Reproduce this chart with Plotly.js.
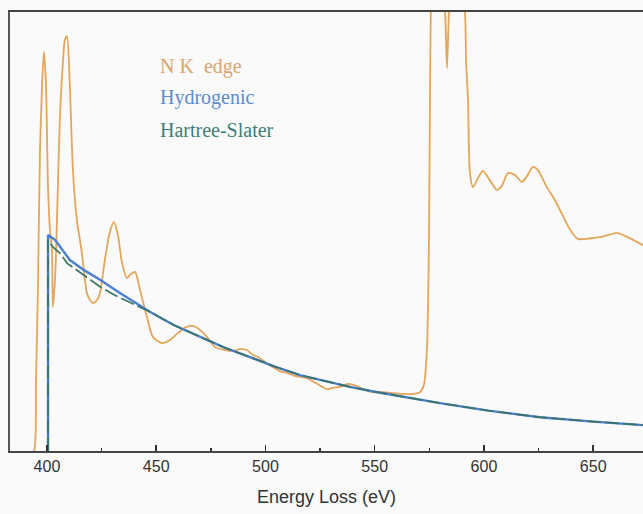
<!DOCTYPE html>
<html>
<head>
<meta charset="utf-8">
<script src="https://cdn.plot.ly/plotly-3.0.1.min.js"></script>
<style>html,body{margin:0;padding:0;background:#fafafa;}#chart{width:643px;height:514px;}</style>
</head>
<body>
<div id="chart"></div>
<script>
// N K edge spectrum (energy loss, eV / intensity, arbitrary units)
const edgeE = [384, 392, 394.1, 395.0, 395.9, 396.8, 397.7, 398.6, 399.5, 400.5, 401.4, 402.3, 402.7, 403.7, 404.6, 405.9, 407.3, 408.2, 409.2, 410.5, 411.9, 413.7, 415.1, 416.0, 418.3, 419.7, 421.1, 422.9, 424.3, 426.5, 428.8, 430.7, 432.5, 434.3, 436.6, 438.4, 440.3, 442.6, 445.8, 448.5, 452.6, 456.3, 460.0, 463.6, 466.8, 470.0, 473.2, 476.9, 481.5, 485.1, 488.3, 491.5, 494.3, 496.6, 499.8, 503.4, 506.6, 509.8, 513.5, 519.0, 523.6, 528.1, 530.9, 534.1, 537.8, 541.9, 545.5, 549.2, 553.8, 558.4, 562.9, 567.5, 570.7, 572.5, 573.9, 574.8, 575.3, 575.7, 576.2, 578.5, 581.2, 582.2, 583.1, 584.0, 584.9, 589.0, 591.3, 591.8, 592.7, 593.6, 595.0, 596.8, 599.5, 602.7, 605.9, 608.2, 611.0, 614.2, 617.4, 619.7, 622.4, 624.7, 628.8, 631.6, 634.8, 637.5, 640.3, 643.0, 646.2, 649.9, 653.1, 656.8, 660.9, 664.5, 668.2, 672.8];
const edgeI = [-1, -1, 0, 16.2, 37.4, 67.9, 82.2, 90.9, 84.5, 60.1, 50.3, 45.8, 32.8, 39.0, 52.6, 75.4, 88.4, 93.6, 94.5, 82.9, 64.0, 52.6, 48.1, 45.1, 36.0, 34.4, 33.7, 34.4, 36.0, 43.5, 49.9, 52.2, 49.2, 43.1, 39.4, 40.3, 40.8, 36.7, 30.5, 26.0, 24.6, 25.3, 26.9, 28.2, 28.5, 27.6, 26.0, 23.7, 23.0, 22.8, 23.2, 23.0, 21.9, 21.4, 20.3, 19.1, 18.2, 17.8, 17.1, 16.6, 15.3, 14.1, 14.4, 14.6, 15.3, 14.8, 13.9, 13.4, 13.4, 13.2, 13.0, 13.0, 13.4, 15.0, 23.0, 45.8, 80.0, 100, 106, 109.6, 104, 100, 87.2, 100, 105, 107, 100, 89, 80, 63.3, 60.1, 61.7, 63.8, 61.7, 59.5, 60.4, 63.3, 62.9, 61.3, 62.6, 64.7, 64.0, 60.1, 57.9, 54.9, 52.2, 49.7, 48.3, 48.3, 48.5, 48.7, 49.2, 49.7, 49.0, 48.1, 46.9];

// Hydrogenic cross-section model
const hydroE = [400.5, 400.5, 403.7, 410.5, 417.0, 424.3, 433.4, 447.1, 458.0, 470.0, 481.0, 492.9, 504.0, 515.8, 527.0, 538.7, 550.0, 561.6, 579.9, 602.0, 625.6, 650.0, 672.8];
const hydroI = [0, 49.2, 48.1, 43.5, 41.2, 39.0, 36.0, 31.7, 28.7, 26.0, 23.6, 21.4, 19.3, 17.3, 15.9, 14.6, 13.5, 12.5, 10.9, 9.2, 7.7, 6.7, 5.9];

// Hartree-Slater cross-section model
const hsE = [400.5, 400.5, 402.7, 405.9, 409.2, 418.3, 424.3, 431.1, 447.1, 458.0, 470.0, 481.0, 492.9, 504.0, 515.8, 527.0, 538.7, 550.0, 561.6, 579.9, 602.0, 625.6, 650.0, 672.8];
const hsI = [0, 48.1, 46.5, 45.1, 42.8, 39.6, 37.4, 35.5, 31.7, 28.7, 26.0, 23.6, 21.4, 19.3, 17.3, 15.9, 14.6, 13.5, 12.5, 10.9, 9.2, 7.7, 6.7, 5.9];

const seriesNames = ["N K  edge", "Hydrogenic", "Hartree-Slater"];
const xTicks = [400, 450, 500, 550, 600, 650];

const colEdge = "#e3a65a";
const colHydro = "#4a7fd2";
const colHS = "#3c7468";

const traces = [
  {x: edgeE, y: edgeI, type: "scatter", mode: "lines", name: seriesNames[0],
   line: {color: colEdge, width: 1.8, shape: "spline", smoothing: 0.7}},
  {x: hydroE, y: hydroI, type: "scatter", mode: "lines", name: seriesNames[1],
   line: {color: colHydro, width: 2.4}},
  {x: hsE, y: hsI, type: "scatter", mode: "lines", name: seriesNames[2],
   line: {color: colHS, width: 1.7, dash: "14px,4px"}}
];

const legendColors = ["#d9a56c", "#5b8bca", "#3f7e78"];
const legendY = [0.875, 0.806, 0.731];
const annotations = seriesNames.map((t, i) => ({
  text: t, xref: "paper", yref: "paper", x: 0.234, y: legendY[i],
  xanchor: "left", yanchor: "middle", showarrow: false,
  font: {family: "Liberation Serif, Times New Roman, serif", size: 20, color: legendColors[i]}
}));

const layout = {
  width: 643, height: 514,
  margin: {l: 10, r: 0, t: 12, b: 63, pad: 0},
  paper_bgcolor: "#fafafa", plot_bgcolor: "#fafafa",
  showlegend: false,
  xaxis: {
    range: [383.1, 672.8], tickvals: xTicks, ticktext: xTicks.map(String),
    ticks: "inside", ticklen: 6, tickwidth: 1.5, tickcolor: "#333",
    minor: {dtick: 25, tick0: 400, ticks: "inside", ticklen: 3, tickcolor: "#333", tickwidth: 1.5},
    showline: true, mirror: true, linecolor: "#444", linewidth: 2,
    showgrid: false, zeroline: false,
    tickfont: {family: "Liberation Sans, Arial, sans-serif", size: 16, color: "#333"},
    title: {text: "Energy Loss (eV)", standoff: 16,
            font: {family: "Liberation Sans, Arial, sans-serif", size: 18, color: "#333"}}
  },
  yaxis: {
    range: [0, 100], showticklabels: false, ticks: "",
    showline: true, linecolor: "#555", linewidth: 2,
    showgrid: false, zeroline: false
  },
  annotations: annotations
};

Plotly.newPlot("chart", traces, layout, {displayModeBar: false, staticPlot: true});
</script>
</body>
</html>
